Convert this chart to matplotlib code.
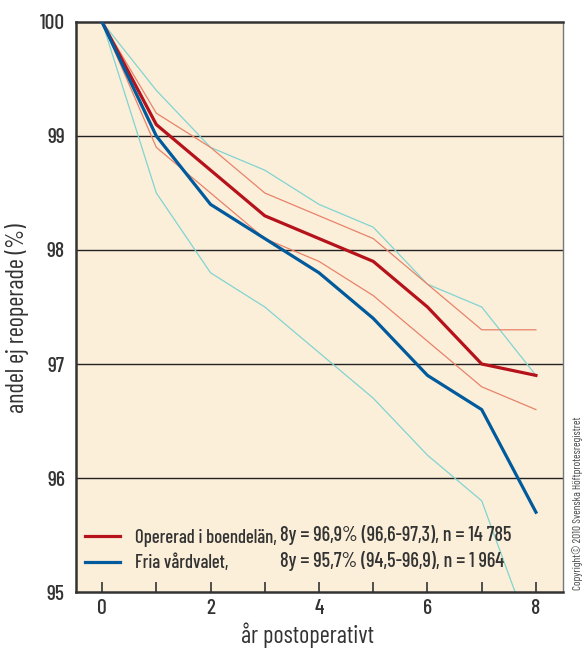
import matplotlib
matplotlib.use("Agg")
import matplotlib.pyplot as plt

years = [0, 1, 2, 3, 4, 5, 6, 7, 8]

# Opererad i boendelän
home_mean = [100, 99.1, 98.7, 98.3, 98.1, 97.9, 97.5, 97.0, 96.9]
home_upper = [100, 99.2, 98.9, 98.5, 98.3, 98.1, 97.7, 97.3, 97.3]
home_lower = [100, 98.9, 98.5, 98.1, 97.9, 97.6, 97.2, 96.8, 96.6]

# Fria vårdvalet
free_mean = [100, 99.0, 98.4, 98.1, 97.8, 97.4, 96.9, 96.6, 95.7]
free_upper = [100, 99.4, 98.9, 98.7, 98.4, 98.2, 97.7, 97.5, 96.9]
free_lower = [100, 98.5, 97.8, 97.5, 97.1, 96.7, 96.2, 95.8, 94.5]

labels = ["Opererad i boendelän,", "Fria vårdvalet,"]
stats = ["8y = 96,9% (96,6-97,3), n = 14 785", "8y = 95,7% (94,5-96,9), n = 1 964"]

plt.rcParams["font.family"] = ["Barlow Condensed", "Roboto Condensed", "DejaVu Sans"]
plt.rcParams["font.weight"] = "medium"

bg = "#fcefd9"
red = "#b5121b"
blue = "#005a9c"
light_red = "#e8826a"
cyan = "#80d4d2"
ink = "#333333"

fig = plt.figure(figsize=(5.85, 6.5), dpi=100)
ax = fig.add_axes([0.130, 0.0892, 0.8325, 0.877])
ax.set_facecolor(bg)

for yv in [96, 97, 98, 99]:
    ax.axhline(yv, color="#222222", lw=1.0, zorder=1)

ax.plot(years, free_upper, color=cyan, lw=0.9, zorder=2)
ax.plot(years, free_lower, color=cyan, lw=0.9, zorder=2)
ax.plot(years, home_upper, color=light_red, lw=0.9, zorder=2)
ax.plot(years, home_lower, color=light_red, lw=0.9, zorder=2)
l1, = ax.plot(years, home_mean, color=red, lw=2.3, zorder=3)
l2, = ax.plot(years, free_mean, color=blue, lw=2.3, zorder=3)

ax.set_xlim(-0.48, 8.5)
ax.set_ylim(95, 100)
ax.set_xticks(years)
ax.set_xticklabels([str(y) if y % 2 == 0 else "" for y in years])
ax.set_yticks([95, 96, 97, 98, 99, 100])
ax.tick_params(axis="x", direction="in", length=7, width=1.2, color=ink,
               labelsize=15.5, pad=5, labelcolor=ink)
ax.tick_params(axis="y", length=0, labelsize=15.5, pad=8, labelcolor=ink)

for side in ["left", "bottom", "top"]:
    ax.spines[side].set_color(ink)
    ax.spines[side].set_linewidth(1.8)
ax.spines["right"].set_color("#777777")
ax.spines["right"].set_linewidth(1.0)

ax.set_xlabel("år postoperativt", fontsize=17.5, color=ink, labelpad=3, x=0.475)
ax.set_ylabel("andel ej reoperade (%)", fontsize=17.5, color=ink, labelpad=8, y=0.48)

leg = ax.legend([l1, l2], labels, loc="lower left", bbox_to_anchor=(0.018, 0.035),
                frameon=False, fontsize=13.5, handlelength=1.9, handletextpad=0.75,
                borderpad=0, borderaxespad=0, labelspacing=0.4)
for t in leg.get_texts():
    t.set_color(ink)

ax.text(0.419, 0.1, stats[0], transform=ax.transAxes, fontsize=14.5,
        color=ink, va="center", ha="left")
ax.text(0.419, 0.054, stats[1], transform=ax.transAxes, fontsize=14.5,
        color=ink, va="center", ha="left")

fig.text(0.988, 0.226, "Copyright© 2010 Svenska Höftprotesregistret", rotation=90,
         fontsize=8, color="#444444", ha="center", va="center", fontweight="normal")

fig.savefig("out.png", dpi=100, facecolor="white")
